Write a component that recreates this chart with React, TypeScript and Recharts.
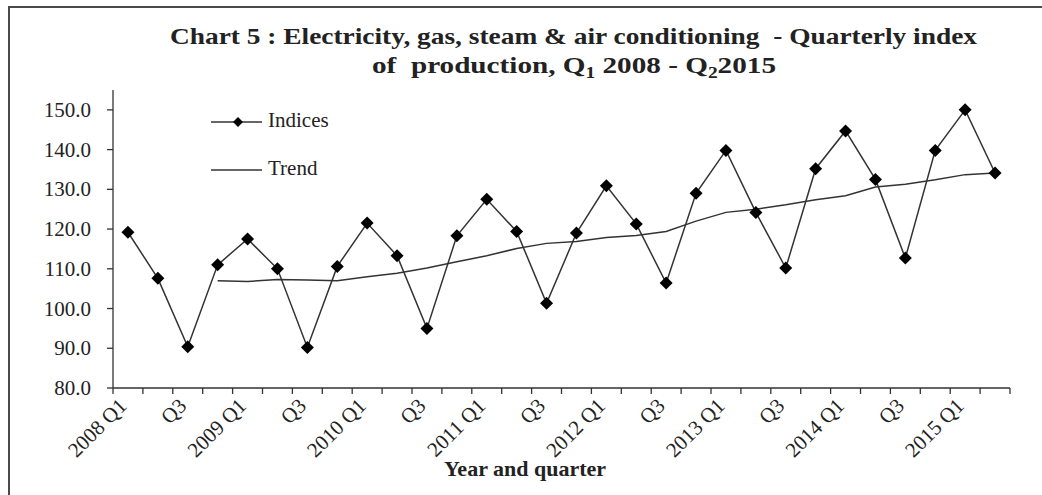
import React from 'react';
import { LineChart, Line, XAxis, YAxis } from 'recharts';

const quarters = [
  '2008 Q1', '2008 Q2', '2008 Q3', '2008 Q4',
  '2009 Q1', '2009 Q2', '2009 Q3', '2009 Q4',
  '2010 Q1', '2010 Q2', '2010 Q3', '2010 Q4',
  '2011 Q1', '2011 Q2', '2011 Q3', '2011 Q4',
  '2012 Q1', '2012 Q2', '2012 Q3', '2012 Q4',
  '2013 Q1', '2013 Q2', '2013 Q3', '2013 Q4',
  '2014 Q1', '2014 Q2', '2014 Q3', '2014 Q4',
  '2015 Q1', '2015 Q2'
];

const indices = [
  119.2, 107.6, 90.4, 111.0,
  117.5, 110.0, 90.2, 110.6,
  121.5, 113.3, 95.0, 118.3,
  127.5, 119.4, 101.3, 119.0,
  130.9, 121.3, 106.4, 129.0,
  139.8, 124.2, 110.2, 135.2,
  144.7, 132.5, 112.7, 139.8,
  150.0, 134.1
];

const trend = [
  null, null, null, 107.0,
  106.8, 107.3, 107.2, 107.0,
  108.0, 108.9, 110.2, 111.8,
  113.3, 115.1, 116.4, 116.9,
  117.9, 118.4, 119.4, 122.0,
  124.2, 125.0, 126.1, 127.4,
  128.4, 130.6, 131.3, 132.4,
  133.7, 134.1
];

const yTicks = [80, 90, 100, 110, 120, 130, 140, 150];

const data = quarters.map((q, i) => ({ quarter: q, indices: indices[i], trend: trend[i] }));

const FONT = "'Liberation Serif', 'Times New Roman', serif";
const INK = '#222';

const Diamond = (props: any) => {
  const { cx, cy } = props;
  if (cx == null || cy == null) return null;
  const r = 6.5;
  return (
    <polygon
      points={`${cx},${cy - r} ${cx + r},${cy} ${cx},${cy + r} ${cx - r},${cy}`}
      fill="#000"
    />
  );
};

const XTick = (props: any) => {
  const { x, y, payload, index } = props;
  const off = payload.offset || 0;
  const parts = String(payload.value).split(' ');
  const label = parts[1] === 'Q1' ? payload.value : parts[1] === 'Q3' ? 'Q3' : '';
  const last = index === quarters.length - 1;
  const ty = y + 19;
  return (
    <g>
      <line x1={x - off} x2={x - off} y1={y} y2={y + 6} stroke="#333" strokeWidth={1.3} />
      {last && <line x1={x + off} x2={x + off} y1={y} y2={y + 6} stroke="#333" strokeWidth={1.3} />}
      {label && (
        <text
          x={x}
          y={ty}
          textAnchor="end"
          transform={`rotate(-45 ${x} ${ty})`}
          style={{ fontFamily: FONT, fontSize: 21 }}
          fill={INK}
        >
          {label}
        </text>
      )}
    </g>
  );
};

const YTick = (props: any) => {
  const { x, y, payload } = props;
  return (
    <text x={x} y={y} dy={7} textAnchor="end" style={{ fontFamily: FONT, fontSize: 21 }} fill={INK}>
      {Number(payload.value).toFixed(1)}
    </text>
  );
};

const App = () => {
  return (
    <div style={{ position: 'relative', width: 1042, height: 495, overflow: 'hidden', background: '#fff' }}>
      <style>{'body{margin:0;overflow:hidden;}'}</style>
      <div
        style={{
          position: 'absolute',
          left: 8,
          top: 6,
          width: 1100,
          height: 600,
          borderTop: '2px solid #4a4a4a',
          borderLeft: '2px solid #4a4a4a'
        }}
      />
      <div style={{ position: 'absolute', left: 0, top: 0 }}>
        <LineChart width={1042} height={495} data={data} margin={{ top: 90, right: 32, bottom: 27, left: 53 }}>
          <XAxis
            dataKey="quarter"
            scale="band"
            interval={0}
            height={80}
            tickSize={0}
            tickMargin={0}
            tickLine={false}
            axisLine={{ stroke: '#333', strokeWidth: 1.3 }}
            tick={<XTick />}
          />
          <YAxis
            width={60}
            domain={[80, 155]}
            ticks={yTicks}
            allowDataOverflow
            tickSize={6}
            tickMargin={16}
            axisLine={{ stroke: '#333', strokeWidth: 1.3 }}
            tickLine={{ stroke: '#333', strokeWidth: 1.3 }}
            tick={<YTick />}
          />
          <Line
            dataKey="trend"
            type="linear"
            stroke="#333"
            strokeWidth={1.5}
            dot={false}
            isAnimationActive={false}
          />
          <Line
            dataKey="indices"
            type="linear"
            stroke="#333"
            strokeWidth={1.5}
            dot={<Diamond />}
            activeDot={false}
            isAnimationActive={false}
          />
        </LineChart>
      </div>
      <svg
        width={1042}
        height={495}
        style={{ position: 'absolute', left: 0, top: 0, pointerEvents: 'none' }}
      >
        <g style={{ fontFamily: FONT }} fill={INK}>
          <text
            x={170}
            y={44}
            fontSize={24}
            fontWeight="bold"
            textLength={807}
            lengthAdjust="spacingAndGlyphs"
            style={{ whiteSpace: 'pre' }}
          >
            Chart 5 : Electricity, gas, steam &amp; air conditioning  - Quarterly index
          </text>
          <text
            x={372}
            y={73}
            fontSize={24}
            fontWeight="bold"
            textLength={404}
            lengthAdjust="spacingAndGlyphs"
            style={{ whiteSpace: 'pre' }}
          >
            {'of  production, Q'}
            <tspan fontSize={16} dy={5}>1</tspan>
            <tspan dy={-5}>{' 2008 - Q'}</tspan>
            <tspan fontSize={16} dy={5}>2</tspan>
            <tspan dy={-5}>{'2015'}</tspan>
          </text>
          <line x1={211} x2={262} y1={122} y2={122} stroke="#333" strokeWidth={1.5} />
          <polygon points="238,117 243,122 238,127 233,122" fill="#000" />
          <text x={268} y={127} fontSize={21}>Indices</text>
          <line x1={211} x2={262} y1={170} y2={170} stroke="#333" strokeWidth={1.5} />
          <text x={268} y={175} fontSize={21}>Trend</text>
          <text x={525} y={476} textAnchor="middle" fontSize={22} fontWeight="bold">
            Year and quarter
          </text>
        </g>
      </svg>
    </div>
  );
};

export default App;
